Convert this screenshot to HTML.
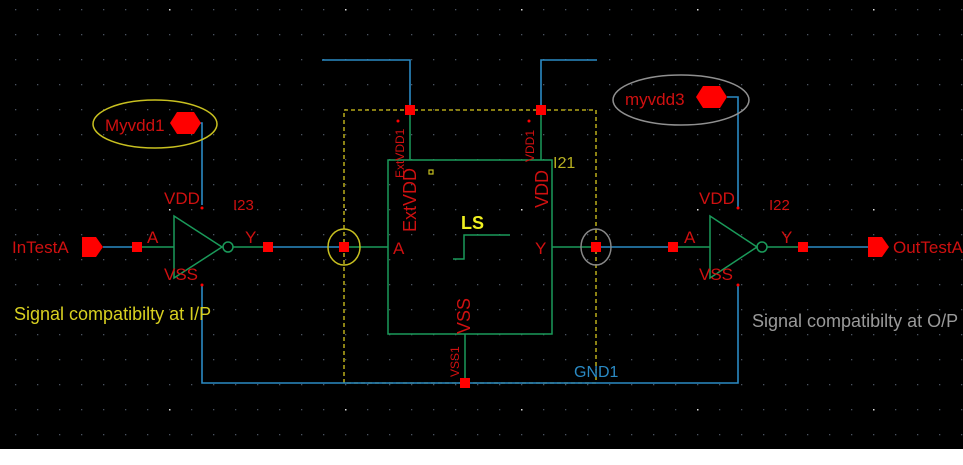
<!DOCTYPE html>
<html><head><meta charset="utf-8"><style>
html,body{margin:0;padding:0;background:#fff}
svg{display:block}
text{font-family:"Liberation Sans",sans-serif}
</style></head><body>
<svg width="963" height="465" viewBox="0 0 963 465" xmlns="http://www.w3.org/2000/svg">
<defs>
<pattern id="g" x="15" y="9" width="22" height="25" patternUnits="userSpaceOnUse">
<rect x="0" y="0" width="1.3" height="1.3" fill="#4a5260"/>
</pattern>
<pattern id="gb" x="169" y="9" width="176" height="200" patternUnits="userSpaceOnUse">
<rect x="-0.5" y="-0.5" width="2" height="2" fill="#ddd"/>
</pattern>
</defs>
<rect x="0" y="0" width="963" height="449" fill="#000"/>
<rect x="0" y="0" width="963" height="449" fill="url(#g)"/>
<rect x="0" y="0" width="963" height="449" fill="url(#gb)"/>

<rect x="344" y="110" width="252" height="273" fill="none" stroke="#d8c81e" stroke-width="1.3" stroke-dasharray="4,3"/>

<g stroke="#2a8ac4" stroke-width="1.6" fill="none">
<polyline points="322,60 410,60 410,110"/>
<polyline points="541,110 541,60 597,60"/>
<polyline points="200,123 202,123 202,205"/>
<polyline points="727,97 738,97 738,208"/>
<polyline points="202,285 202,383 738,383 738,285"/>
<line x1="103" y1="247" x2="137" y2="247"/>
<line x1="268" y1="247" x2="344" y2="247"/>
<line x1="596" y1="247" x2="673" y2="247"/>
<line x1="803" y1="247" x2="868" y2="247"/>
</g>

<g stroke="#1a9a5a" stroke-width="1.5" fill="none">
<line x1="137" y1="247" x2="174" y2="247"/>
<polygon points="174,216 174,278 222,247"/>
<circle cx="228" cy="247" r="5"/>
<line x1="233" y1="247" x2="268" y2="247"/>
<line x1="673" y1="247" x2="710" y2="247"/>
<polygon points="710,216 710,278 757,247"/>
<circle cx="762" cy="247" r="5"/>
<line x1="767" y1="247" x2="803" y2="247"/>
<rect x="388" y="160" width="164" height="174"/>
<line x1="344" y1="247" x2="388" y2="247"/>
<line x1="552" y1="247" x2="596" y2="247"/>
<line x1="410" y1="110" x2="410" y2="160"/>
<line x1="541" y1="110" x2="541" y2="160"/>
<line x1="465" y1="334" x2="465" y2="383"/>
<polyline points="453,259 464,259 464,235 510,235"/>
</g>

<ellipse cx="155" cy="124" rx="62" ry="24" fill="none" stroke="#c8c020" stroke-width="1.5"/>
<ellipse cx="681" cy="100" rx="68" ry="25" fill="none" stroke="#909090" stroke-width="1.5"/>
<ellipse cx="344" cy="247" rx="16" ry="18" fill="none" stroke="#c8c020" stroke-width="1.5"/>
<ellipse cx="596" cy="247" rx="15" ry="18" fill="none" stroke="#888" stroke-width="1.5"/>

<g fill="#f00">
<polygon points="170,123 177,112 194,112 201,123 194,134 177,134"/>
<polygon points="696,97 703,86 720,86 727,97 720,108 703,108"/>
<polygon points="82,237 96,237 103,247 96,257 82,257"/>
<polygon points="868,237 882,237 889,247 882,257 868,257"/>
<rect x="132" y="242" width="10" height="10"/>
<rect x="263" y="242" width="10" height="10"/>
<rect x="339" y="242" width="10" height="10"/>
<rect x="591" y="242" width="10" height="10"/>
<rect x="668" y="242" width="10" height="10"/>
<rect x="798" y="242" width="10" height="10"/>
<rect x="405" y="105" width="10" height="10"/>
<rect x="536" y="105" width="10" height="10"/>
<rect x="460" y="378" width="10" height="10"/>
<circle cx="202" cy="208" r="1.5"/><circle cx="202" cy="285" r="1.5"/>
<circle cx="738" cy="208" r="1.5"/><circle cx="738" cy="285" r="1.5"/>
<circle cx="398" cy="121" r="1.5"/><circle cx="529" cy="121" r="1.5"/>
</g>
<rect x="429" y="170" width="4" height="4" fill="none" stroke="#c8c020" stroke-width="1.2"/>

<g fill="#d01010" font-size="17">
<text x="12" y="253">InTestA</text>
<text x="893" y="253">OutTestA</text>
<text x="105" y="131">Myvdd1</text>
<text x="625" y="105">myvdd3</text>
<text x="164" y="204">VDD</text>
<text x="164" y="280">VSS</text>
<text x="147" y="243">A</text>
<text x="245" y="243">Y</text>
<text x="233" y="210" font-size="15">I23</text>
<text x="699" y="204">VDD</text>
<text x="699" y="280">VSS</text>
<text x="684" y="243">A</text>
<text x="781" y="243">Y</text>
<text x="769" y="210" font-size="15">I22</text>
<text x="393" y="254">A</text>
<text x="535" y="254">Y</text>
<text transform="translate(416,232) rotate(-90)" font-size="18">ExtVDD</text>
<text transform="translate(548,208) rotate(-90)" font-size="18">VDD</text>
<text transform="translate(470,334) rotate(-90)" font-size="18">VSS</text>
<text transform="translate(404,178) rotate(-90)" font-size="12">ExtVDD1</text>
<text transform="translate(534,162) rotate(-90)" font-size="12">VDD1</text>
<text transform="translate(459,377) rotate(-90)" font-size="12">VSS1</text>
</g>
<text x="553" y="168" fill="#b8b020" font-size="16">I21</text>
<text x="461" y="229" fill="#f0f020" font-size="18" font-weight="bold">LS</text>
<text x="574" y="377" fill="#2a8ac4" font-size="16">GND1</text>
<text x="14" y="320" fill="#d8d020" font-size="18">Signal compatibilty at I/P</text>
<text x="752" y="327" fill="#9a9a9a" font-size="18">Signal compatibilty at O/P</text>
</svg>
</body></html>
